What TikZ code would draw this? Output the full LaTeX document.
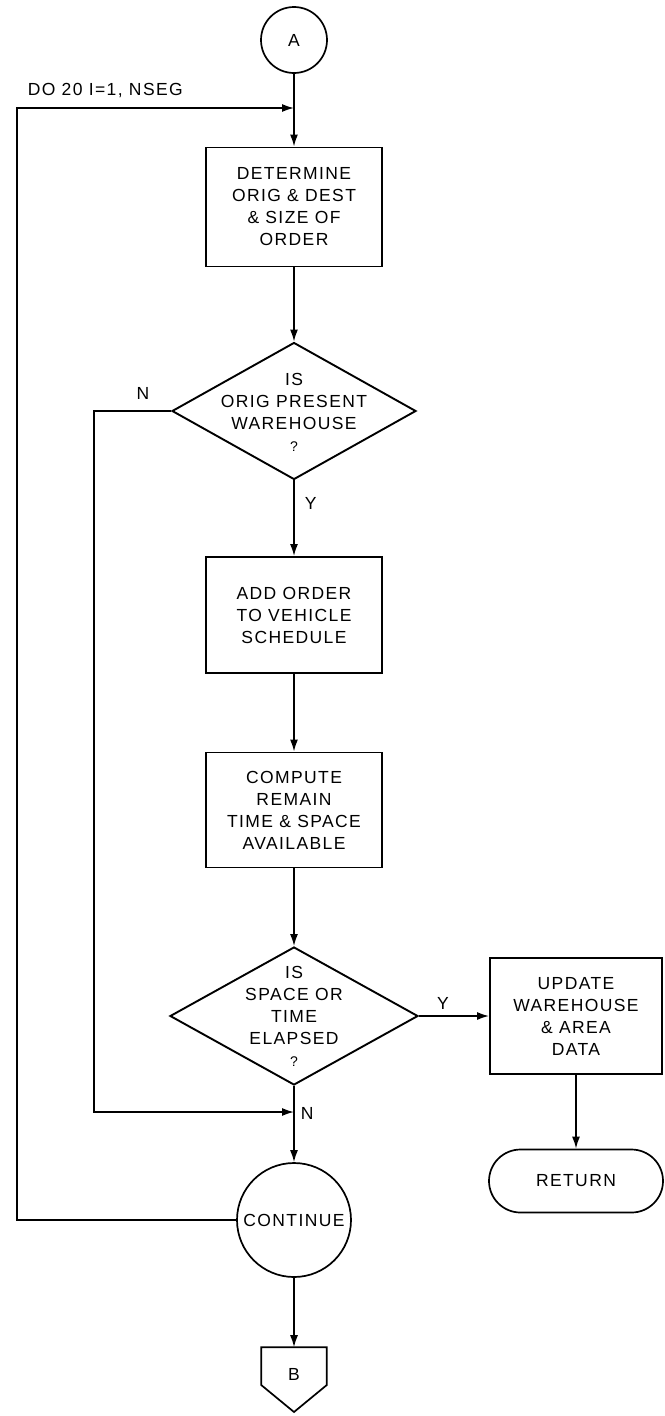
\documentclass[tikz,border=0pt]{standalone}
\usepackage{fontspec}
\setmainfont{Liberation Sans}[LetterSpace=8]
\usetikzlibrary{arrows.meta,shapes.geometric,shapes.misc}
\begin{document}
\begin{tikzpicture}[x=1pt,y=-1pt,
  line width=1.6pt,
  >={Latex[length=12pt,width=8pt]},
  lbl/.style={font=\fontsize{17.5}{22}\selectfont, align=center, inner sep=0pt},
  procbox/.style={draw, rectangle, line width=1.9pt, minimum width=176pt, minimum height=117pt, lbl},
  decision/.style={draw, diamond, line width=1.9pt, inner sep=0pt},
  connector/.style={draw, circle, line width=1.7pt, lbl},
  terminal/.style={draw, rounded rectangle, line width=1.7pt, lbl}
]
\useasboundingbox (0,0) rectangle (664,1416);

% main column
\node[connector, minimum size=66pt] (A) at (294,40) {A};
\node[procbox, minimum height=119pt] (det) at (294,207) {DETERMINE\\ORIG \& DEST\\\& SIZE OF\\ORDER};
\node[decision, minimum width=244pt, minimum height=137pt] (d1) at (294,411) {};
\node[lbl] (d1t) at (294,412) {IS\\ORIG PRESENT\\WAREHOUSE\\{\fontsize{14}{16}\selectfont ?}};
\node[procbox, minimum height=116pt] (add) at (294,615) {ADD ORDER\\TO VEHICLE\\SCHEDULE};
\node[procbox, minimum height=115pt] (comp) at (294,810) {COMPUTE\\REMAIN\\TIME \& SPACE\\AVAILABLE};
\node[decision, minimum width=248pt, minimum height=138pt] (d2) at (294,1016) {};
\node[lbl] (d2t) at (294,1016) {IS\\SPACE OR\\TIME\\ELAPSED\\{\fontsize{14}{16}\selectfont ?}};
\node[connector, minimum size=114pt] (cont) at (294,1220) {CONTINUE};
\node[lbl, minimum width=64pt, minimum height=52pt] (B) at (294,1374) {B};
\draw[line width=1.7pt] (B.north west) -- (B.north east) -- ([yshift=-11pt]B.east)
  -- ([yshift=-38pt]B.center) -- ([yshift=-11pt]B.west) -- cycle;

% right branch
\node[procbox, minimum width=172pt, minimum height=116pt] (upd) at (576,1016) {UPDATE\\WAREHOUSE\\\& AREA\\DATA};
\node[terminal, minimum width=174pt, minimum height=63pt] (ret) at (576,1181) {RETURN};

% loop and branch points
\coordinate (j1) at (294,108);
\coordinate (lt) at (17,108);
\coordinate (lb) at (17,1220);
\coordinate (nt) at (94,411);
\coordinate (nb) at (94,1112);
\coordinate (j2) at (294,1112);

% labels
\node[lbl, anchor=west] (do) at (27,91) {DO 20 I=1, NSEG};
\node[lbl] (n1) at (143,393) {N};
\node[lbl, anchor=west] (y1) at (304,503) {Y};
\node[lbl] (y2) at (443,1003) {Y};
\node[lbl, anchor=west] (n2) at (300,1113) {N};

% connectors
\draw[->] (A) -- (det);
\draw[->] (cont.west) -- (lb) -- (lt) -- (j1);
\draw[->] (det) -- (d1);
\draw[->] (d1.west) -- (nt) -- (nb) -- (j2);
\draw[->] (d1) -- (add);
\draw[->] (add) -- (comp);
\draw[->] (comp) -- (d2);
\draw[->] (d2) -- (cont);
\draw[->] (d2) -- (upd);
\draw[->] (upd) -- (ret);
\draw[->] (cont) -- (B.north);
\end{tikzpicture}
\end{document}
